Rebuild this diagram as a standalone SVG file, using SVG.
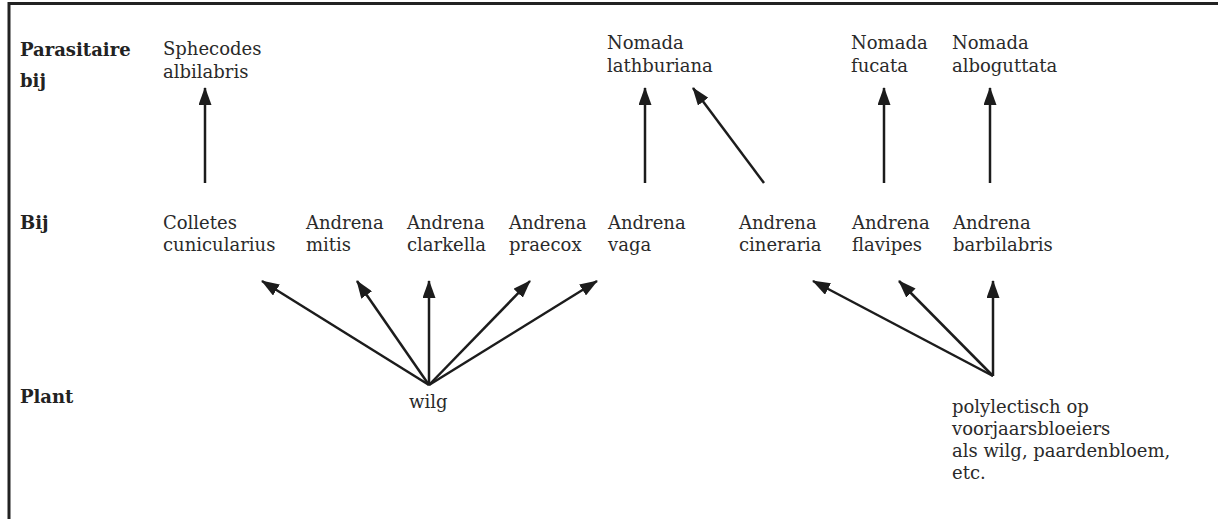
<svg xmlns="http://www.w3.org/2000/svg" width="1218" height="519" viewBox="0 0 1218 519">
<defs>
<style>
.t{font-family:"DejaVu Serif","Liberation Serif",serif;font-size:18px;fill:#2a2a2a}
.h{font-family:"DejaVu Serif","Liberation Serif",serif;font-size:18px;font-weight:bold;fill:#222}
.c line{stroke:#1c1c1c;stroke-width:2.5;marker-end:url(#ah)}
.frame{stroke:#222;stroke-width:3;fill:none}
</style>
<marker id="ah" markerUnits="userSpaceOnUse" markerWidth="18" markerHeight="13" refX="17" refY="6.5" orient="auto">
<path d="M0,0 L18,6.5 L0,13 z" fill="#1c1c1c"/>
</marker>
</defs>
<rect width="1218" height="519" fill="#fff"/>
<path class="frame" d="M9,519 L9,3.5 L1218,3.5"/>
<g id="row-labels">
<text class="h" x="20" y="56">Parasitaire</text>
<text class="h" x="20" y="87">bij</text>
<text class="h" x="20" y="229">Bij</text>
<text class="h" x="20" y="403">Plant</text>
</g>
<g id="sphecodes-albilabris"><text class="t" x="163" y="55">Sphecodes</text><text class="t" x="163" y="78">albilabris</text></g>
<g id="nomada-lathburiana"><text class="t" x="607" y="49">Nomada</text><text class="t" x="607" y="72">lathburiana</text></g>
<g id="nomada-fucata"><text class="t" x="851" y="49">Nomada</text><text class="t" x="851" y="72">fucata</text></g>
<g id="nomada-alboguttata"><text class="t" x="952" y="49">Nomada</text><text class="t" x="952" y="72">alboguttata</text></g>
<g id="colletes-cunicularius"><text class="t" x="163" y="229">Colletes</text><text class="t" x="163" y="251">cunicularius</text></g>
<g id="andrena-mitis"><text class="t" x="306" y="229">Andrena</text><text class="t" x="306" y="251">mitis</text></g>
<g id="andrena-clarkella"><text class="t" x="407" y="229">Andrena</text><text class="t" x="407" y="251">clarkella</text></g>
<g id="andrena-praecox"><text class="t" x="509" y="229">Andrena</text><text class="t" x="509" y="251">praecox</text></g>
<g id="andrena-vaga"><text class="t" x="608" y="229">Andrena</text><text class="t" x="608" y="251">vaga</text></g>
<g id="andrena-cineraria"><text class="t" x="739" y="229">Andrena</text><text class="t" x="739" y="251">cineraria</text></g>
<g id="andrena-flavipes"><text class="t" x="852" y="229">Andrena</text><text class="t" x="852" y="251">flavipes</text></g>
<g id="andrena-barbilabris"><text class="t" x="953" y="229">Andrena</text><text class="t" x="953" y="251">barbilabris</text></g>
<g id="wilg"><text class="t" x="409" y="408">wilg</text></g>
<g id="polylectisch"><text class="t" x="952" y="413">polylectisch op</text><text class="t" x="952" y="435">voorjaarsbloeiers</text><text class="t" x="952" y="457">als wilg, paardenbloem,</text><text class="t" x="952" y="479">etc.</text></g>
<g id="connectors" class="c">
<line x1="205" y1="183" x2="205" y2="88"/>
<line x1="645" y1="183" x2="645" y2="88"/>
<line x1="764" y1="183" x2="693" y2="88"/>
<line x1="884" y1="183" x2="884" y2="88"/>
<line x1="990" y1="183" x2="990" y2="88"/>
<line x1="429" y1="385" x2="262" y2="281"/>
<line x1="429" y1="385" x2="357" y2="281"/>
<line x1="429" y1="385" x2="429" y2="281"/>
<line x1="429" y1="385" x2="530" y2="281"/>
<line x1="429" y1="385" x2="597" y2="281"/>
<line x1="993" y1="376" x2="813" y2="281"/>
<line x1="993" y1="376" x2="899" y2="281"/>
<line x1="993" y1="376" x2="993" y2="281"/>
</g>
</svg>
